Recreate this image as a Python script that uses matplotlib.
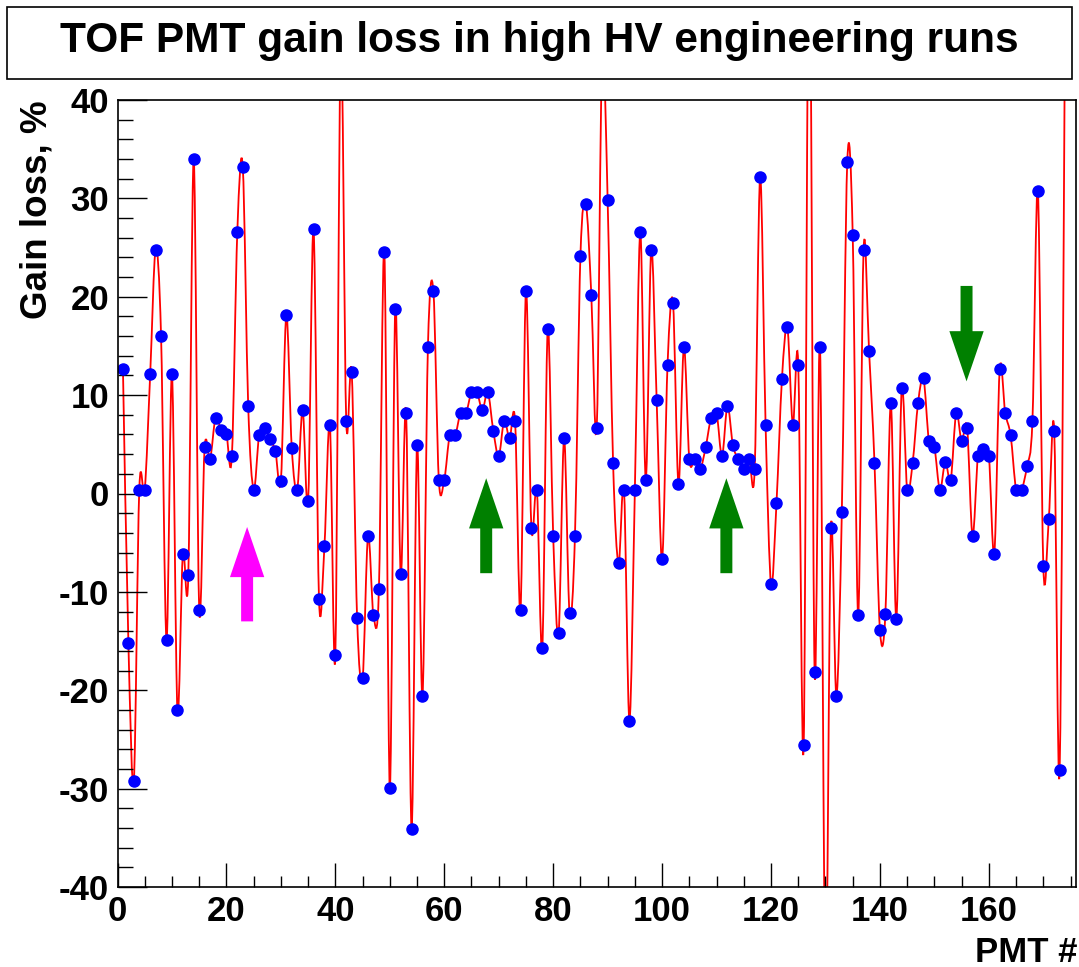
import matplotlib
matplotlib.use("Agg")
import matplotlib.pyplot as plt
import numpy as np
from matplotlib.path import Path
from matplotlib.patches import PathPatch, FancyArrow, Rectangle

plt.rcParams["font.family"] = ["Liberation Sans", "DejaVu Sans"]
plt.rcParams["font.weight"] = "bold"
plt.rcParams["axes.unicode_minus"] = False

# gain loss per PMT (%); values beyond +-40 are off the frame in the original
pmt = np.arange(1, 175)
gain_loss = [
    12.7, -15.2, -29.2, 0.4, 0.4, 12.1, 24.8, 16.0, -14.9, 12.1,
    -22.0, -6.1, -8.3, 34.0, -11.8, 4.7, 3.5, 7.7, 6.5, 6.0,
    3.8, 26.6, 33.2, 8.9, 0.4, 5.9, 6.7, 5.5, 4.3, 1.3,
    18.1, 4.6, 0.4, 8.5, -0.8, 26.9, -10.7, -5.3, 7.0, -16.4,
    46.0, 7.4, 12.4, -12.7, -18.8, -4.3, -12.4, -9.7, 24.5, -29.9,
    18.8, -8.2, 8.2, -34.1, 4.9, -20.6, 14.9, 20.6, 1.4, 1.4,
    5.9, 5.9, 8.2, 8.2, 10.3, 10.3, 8.5, 10.3, 6.4, 3.8,
    7.4, 5.6, 7.4, -11.8, 20.6, -3.5, 0.4, -15.7, 16.7, -4.3,
    -14.2, 5.6, -12.1, -4.3, 24.1, 29.4, 20.2, 6.7, 45.0, 29.8,
    3.1, -7.1, 0.4, -23.1, 0.4, 26.6, 1.4, 24.8, 9.5, -6.7,
    13.1, 19.4, 1.0, 14.9, 3.5, 3.5, 2.5, 4.7, 7.7, 8.2,
    3.8, 8.9, 4.9, 3.5, 2.5, 3.5, 2.5, 32.2, 7.0, -9.2,
    -1.0, 11.6, 16.9, 7.0, 13.1, -25.6, 60.0, -18.1, 14.9, -50.0,
    -3.5, -20.6, -1.9, 33.7, 26.3, -12.4, 24.8, 14.5, 3.1, -13.9,
    -12.2, 9.2, -12.8, 10.7, 0.4, 3.1, 9.2, 11.7, 5.3, 4.7,
    0.4, 3.2, 1.4, 8.2, 5.3, 6.7, -4.3, 3.8, 4.5, 3.8,
    -6.1, 12.7, 8.2, 5.9, 0.4, 0.4, 2.8, 7.4, 30.8, -7.4,
    -2.6, 6.4, -28.1, 50.0,
]

# arrows: x position, tail y, tip y, colour
arrow_x = [23.8, 67.7, 111.8, 155.9]
arrow_tail = [-13.0, -8.1, -8.1, 21.1]
arrow_tip = [-3.4, 1.55, 1.55, 11.4]
arrow_col = ["#ff00ff", "#008000", "#008000", "#008000"]

fig = plt.figure(figsize=(10.79, 9.67), dpi=100)
ax = fig.add_axes([117.5 / 1079, 1 - 887 / 967, (1076 - 117.5) / 1079, (887 - 100) / 967])

# smooth curve through the points (Catmull-Rom as cubic Bezier segments)
pts = np.column_stack([pmt, gain_loss]).astype(float)
ext = np.vstack([pts[0], pts, pts[-1]])
verts = [pts[0]]
codes = [Path.MOVETO]
for i in range(len(pts) - 1):
    p0, p1, p2, p3 = ext[i], ext[i + 1], ext[i + 2], ext[i + 3]
    verts += [p1 + (p2 - p0) / 6, p2 - (p3 - p1) / 6, p2]
    codes += [Path.CURVE4] * 3
ax.add_patch(PathPatch(Path(verts, codes), fill=False, edgecolor="red", lw=1.3))

ax.plot(pmt, gain_loss, ls="none", marker="o", ms=8, color="blue", mec="blue")

for x, t0, t1, c in zip(arrow_x, arrow_tail, arrow_tip, arrow_col):
    ax.add_patch(FancyArrow(x, t0, 0, t1 - t0, width=2.2, head_width=6.3,
                            head_length=5.1, length_includes_head=True,
                            color=c, lw=0))

ax.set_xlim(0, 176)
ax.set_ylim(-40, 40)
ax.set_xticks(np.arange(0, 161, 20))
ax.set_xticks(np.arange(0, 176, 5), minor=True)
ax.set_yticks(np.arange(-40, 41, 10))
ax.set_yticks(np.arange(-40, 41, 2), minor=True)
ax.tick_params(axis="both", which="both", direction="in", width=1, color="black")
ax.tick_params(axis="x", which="major", length=17.3, labelsize=25, pad=6)
ax.tick_params(axis="x", which="minor", length=8)
ax.tick_params(axis="y", which="major", length=20.9, labelsize=25, pad=6)
ax.tick_params(axis="y", which="minor", length=10.8)
for s in ax.spines.values():
    s.set_linewidth(1.2)

fig.text(37 / 1079, 1 - 100 / 967, "Gain loss, %", rotation=90, ha="center",
         va="top", fontsize=26.5, fontweight="bold")
fig.text(1077 / 1079, 1 - 962 / 967, "PMT #", ha="right", va="baseline",
         fontsize=25, fontweight="bold")

fig.patches.append(Rectangle((7 / 1079, 1 - 79 / 967), (1072 - 7) / 1079, 72 / 967,
                             transform=fig.transFigure, facecolor="white",
                             edgecolor="black", lw=1.2))
fig.text(0.5, 1 - 41 / 967, "TOF PMT gain loss in high HV engineering runs",
         ha="center", va="center", fontsize=30.5, fontweight="bold")

fig.savefig("out.png", dpi=100)
